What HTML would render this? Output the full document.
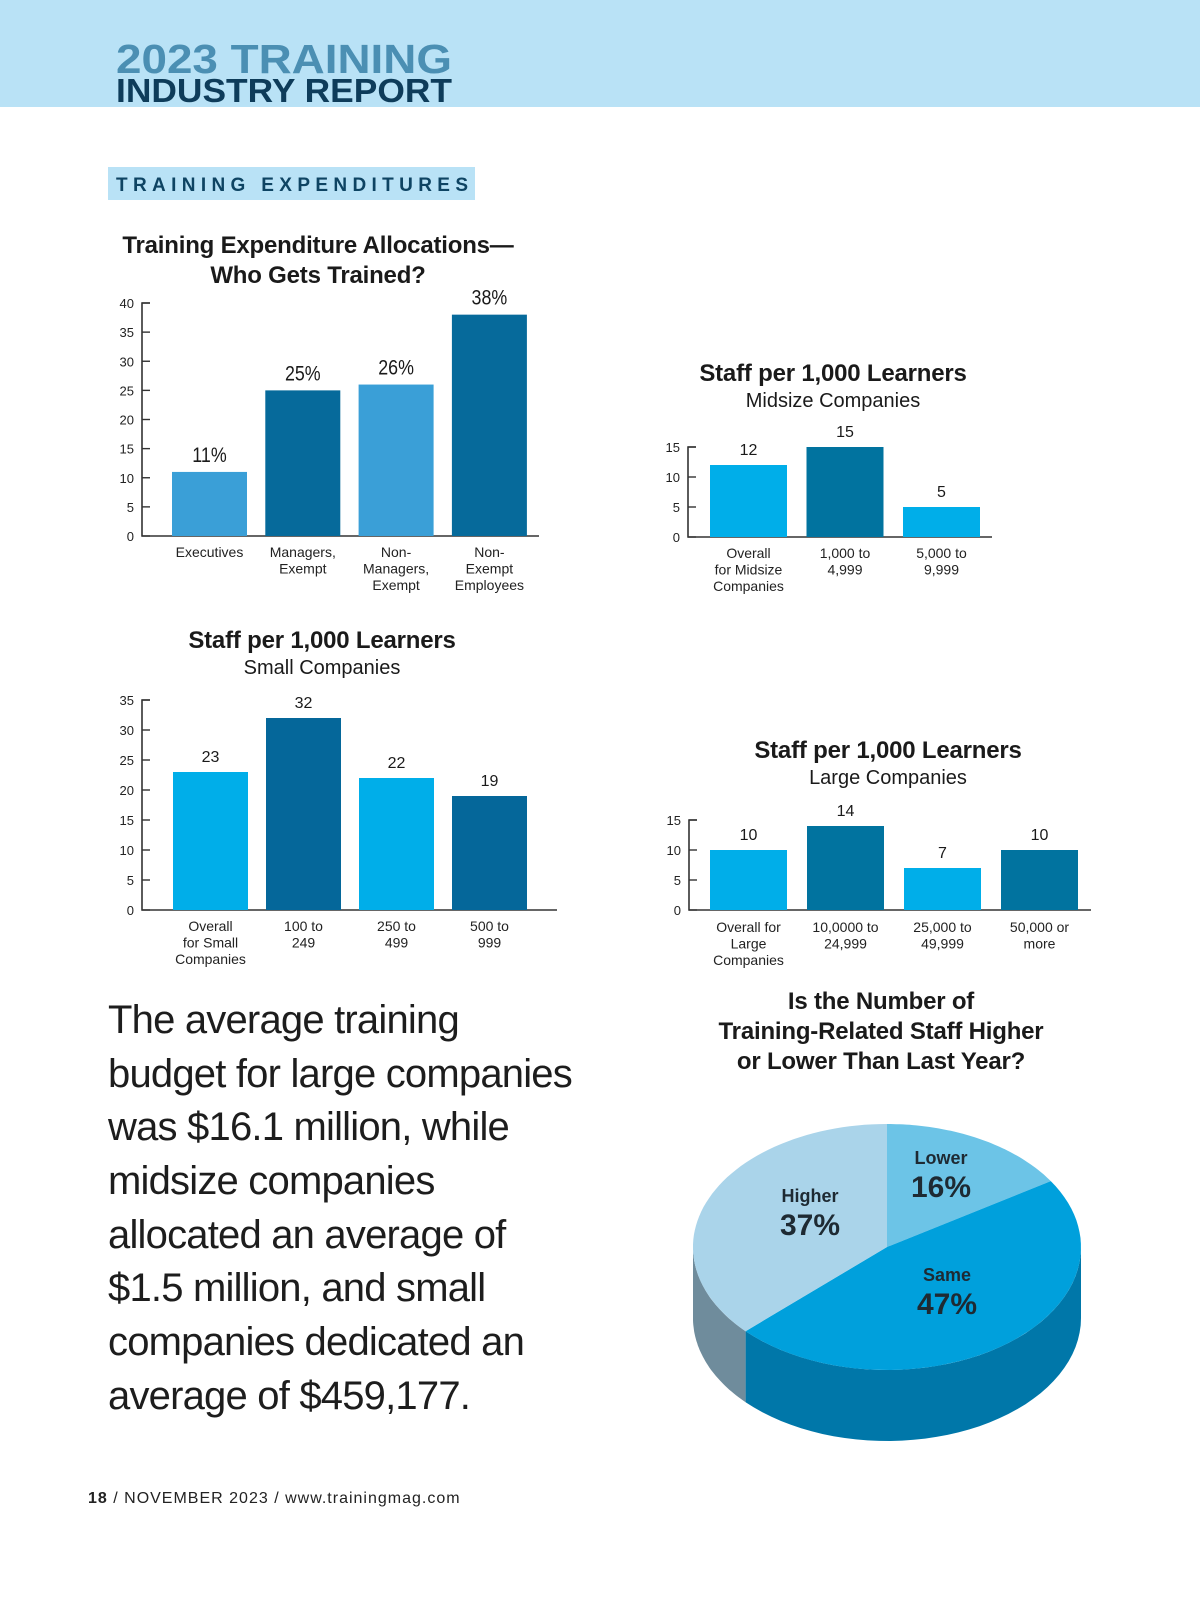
<!DOCTYPE html>
<html><head><meta charset="utf-8">
<style>
html,body{margin:0;padding:0;background:#fff;}
svg{display:block;font-family:"Liberation Sans",Arial,sans-serif;}
</style></head>
<body>
<svg id="page" width="1200" height="1613" viewBox="0 0 1200 1613" xmlns="http://www.w3.org/2000/svg">
<rect x="0" y="0" width="1200" height="107" fill="#b9e2f6"/>
<text x="116" y="73" font-size="41" font-weight="bold" fill="#4b8fb3" textLength="336" lengthAdjust="spacingAndGlyphs">2023 TRAINING</text>
<text x="116" y="102" font-size="33" font-weight="bold" fill="#0e3c5a" textLength="336" lengthAdjust="spacingAndGlyphs">INDUSTRY REPORT</text>
<rect x="108" y="167" width="367" height="33" fill="#b9e2f6"/>
<text x="116" y="191" font-size="19" font-weight="bold" fill="#0e4463" textLength="352" lengthAdjust="spacing">TRAINING EXPENDITURES</text>

<g id="c1"></g>
<g id="c2"></g>
<g id="c3"></g>
<g id="c4"></g>

<g font-size="40" fill="#1d1d1d" letter-spacing="-0.8">
<text x="108" y="1033">The average training</text>
<text x="108" y="1087">budget for large companies</text>
<text x="108" y="1140">was $16.1 million, while</text>
<text x="108" y="1194">midsize companies</text>
<text x="108" y="1248">allocated an average of</text>
<text x="108" y="1301">$1.5 million, and small</text>
<text x="108" y="1355">companies dedicated an</text>
<text x="108" y="1409">average of $459,177.</text>
</g>
<text x="88" y="1503" font-size="16" fill="#222" letter-spacing="1"><tspan font-weight="bold">18</tspan> / NOVEMBER 2023 / www.trainingmag.com</text>

<g id="pie"></g>
</svg>
<script>
// ---- chart data ----
const c1Cats = [["Executives"],["Managers,","Exempt"],["Non-","Managers,","Exempt"],["Non-","Exempt","Employees"]];
const c1Vals = [11,25,26,38];
const c1Labels = ["11%","25%","26%","38%"];
const c1Ticks = [0,5,10,15,20,25,30,35,40];

const c2Cats = [["Overall","for Midsize","Companies"],["1,000 to","4,999"],["5,000 to","9,999"]];
const c2Vals = [12,15,5];
const c2Ticks = [0,5,10,15];

const c3Cats = [["Overall","for Small","Companies"],["100 to","249"],["250 to","499"],["500 to","999"]];
const c3Vals = [23,32,22,19];
const c3Ticks = [0,5,10,15,20,25,30,35];

const c4Cats = [["Overall for","Large","Companies"],["10,0000 to","24,999"],["25,000 to","49,999"],["50,000 or","more"]];
const c4Vals = [10,14,7,10];
const c4Ticks = [0,5,10,15];

const pieCats = ["Lower","Same","Higher"];
const pieVals = [16,47,37];

const NS = "http://www.w3.org/2000/svg";
function mk(parent, tag, attrs, txt){
  const e = document.createElementNS(NS, tag);
  for (const k in attrs) e.setAttribute(k, attrs[k]);
  if (txt !== undefined) e.textContent = txt;
  parent.appendChild(e);
  return e;
}

function barChart(gid, cfg){
  const g = document.getElementById(gid);
  const ymax = cfg.ticks[cfg.ticks.length-1];
  const y = v => cfg.y0 - (cfg.y0 - cfg.yTop) * v / ymax;
  const t = mk(g,"text",{x:cfg.cx,y:cfg.titleY,"text-anchor":"middle","font-size":24,"font-weight":"bold",fill:"#1a1a1a","letter-spacing":"-0.2"}, cfg.title[0]);
  
  
  if (cfg.title[1]) {
    const t2 = mk(g,"text",{x:cfg.cx,y:cfg.titleY+(cfg.title2dy||29),"text-anchor":"middle","font-size":cfg.title2Bold?24:20,"font-weight":cfg.title2Bold?"bold":"normal",fill:"#1a1a1a","letter-spacing":cfg.title2Bold?"-0.2":"0"}, cfg.title[1]);
    
    
  }
  const ax = mk(g,"path",{d:`M${cfg.ax+8} ${y(ymax)} H${cfg.ax} V${cfg.y0} H${cfg.axEnd}`,stroke:"#333","stroke-width":"1.6",fill:"none"});
  
  
  cfg.ticks.forEach(tv=>{
    const tk = mk(g,"line",{x1:cfg.ax,x2:cfg.ax+8,y1:y(tv),y2:y(tv),stroke:"#333","stroke-width":"1.4"});
    
    
    const tl = mk(g,"text",{x:cfg.ax-8,y:y(tv)+5,"text-anchor":"end","font-size":"13",fill:"#222"}, String(tv));
    
    
  });
  cfg.vals.forEach((v,i)=>{
    const x = cfg.x0 + i*cfg.step;
    const b = mk(g,"rect",{x:x,y:y(v),width:cfg.bw,height:cfg.y0-y(v),fill:cfg.colors[i%2]});
    
    
    const lab = cfg.labels ? cfg.labels[i] : String(v);
    const vl = mk(g,"text",{x:x+cfg.bw/2,y:y(v)-cfg.labOff,"text-anchor":"middle","font-size":cfg.labSize,fill:"#1a1a1a",
      transform:cfg.narrow?`translate(${(x+cfg.bw/2)*0.15} 0) scale(0.85 1)`:""}, lab);
    
    
    cfg.cats[i].forEach((ln,j)=>{
      const cl = mk(g,"text",{x:x+cfg.bw/2,y:cfg.catY+j*16.5,"text-anchor":"middle","font-size":"14",fill:"#222"}, ln);
      
      
    });
  });
}

barChart("c1",{title:["Training Expenditure Allocations\u2014","Who Gets Trained?"],title2Bold:true,cx:318,titleY:253,title2dy:30,
  ticks:c1Ticks,vals:c1Vals,labels:c1Labels,cats:c1Cats,ax:142,axEnd:539,y0:536,yTop:303,x0:172,step:93.3,bw:75,
  colors:["#3a9fd7","#066a9b"],labOff:10,labSize:21,narrow:true,catY:557});

barChart("c2",{title:["Staff per 1,000 Learners","Midsize Companies"],cx:833,titleY:381,title2dy:26,
  ticks:c2Ticks,vals:c2Vals,cats:c2Cats,ax:688,axEnd:992,y0:537,yTop:447,x0:710,step:96.5,bw:77,
  colors:["#00aee9","#01739f"],labOff:10,labSize:16,catY:558});

barChart("c3",{title:["Staff per 1,000 Learners","Small Companies"],cx:322,titleY:648,title2dy:26,
  ticks:c3Ticks,vals:c3Vals,cats:c3Cats,ax:142,axEnd:557,y0:910,yTop:700,x0:173,step:93,bw:75,
  colors:["#00aee9","#05679a"],labOff:10,labSize:16,catY:931});

barChart("c4",{title:["Staff per 1,000 Learners","Large Companies"],cx:888,titleY:758,title2dy:26,
  ticks:c4Ticks,vals:c4Vals,cats:c4Cats,ax:689,axEnd:1091,y0:910,yTop:820,x0:710,step:97,bw:77,
  colors:["#00aee9","#01739f"],labOff:10,labSize:16,catY:932});

// ---- pie ----
(function(){
  const g = document.getElementById("pie");
  const pt = mk(g,"text",{"text-anchor":"middle","font-size":"24","font-weight":"bold",fill:"#1a1a1a","letter-spacing":"-0.2"});
  
  
  ["Is the Number of","Training-Related Staff Higher","or Lower Than Last Year?"].forEach((s,i)=>{
    mk(pt,"tspan",{x:881,y:1009+i*30},s);
  });
  const cx=887, cy=1247, rx=194, ry=123, depth=71;
  const topCol = {Lower:"#6cc4e7",Same:"#00a0dc",Higher:"#aad4ea"};
  const sideCol = {Lower:"#3c93b7",Same:"#0077a9",Higher:"#6f8c9c"};
  const P = (th,dy)=>[cx+rx*Math.sin(th), cy-ry*Math.cos(th)+(dy||0)];
  const total = pieVals.reduce((a,b)=>a+b,0);
  let acc=0;
  const segs = pieVals.map((v,i)=>{const a0=acc/total*2*Math.PI; acc+=v; return {name:pieCats[i],a0:a0,a1:acc/total*2*Math.PI,v:v};});
  segs.forEach(s=>{
    const lo=Math.max(s.a0,Math.PI/2), hi=Math.min(s.a1,3*Math.PI/2);
    if (hi<=lo) return;
    const n=40; let d="";
    for(let k=0;k<=n;k++){const p=P(lo+(hi-lo)*k/n); d+=(k?"L":"M")+p[0].toFixed(1)+" "+p[1].toFixed(1);}
    for(let k=n;k>=0;k--){const p=P(lo+(hi-lo)*k/n,depth); d+="L"+p[0].toFixed(1)+" "+p[1].toFixed(1);}
    const side = mk(g,"path",{d:d+"Z",fill:sideCol[s.name]});
    
    
  });
  segs.forEach(s=>{
    const n=60; let d=`M${cx} ${cy}`;
    for(let k=0;k<=n;k++){const p=P(s.a0+(s.a1-s.a0)*k/n); d+="L"+p[0].toFixed(1)+" "+p[1].toFixed(1);}
    const sl = mk(g,"path",{d:d+"Z",fill:topCol[s.name]});
    
    
  });
  const labOff = {Lower:[54,-83],Same:[60,34],Higher:[-77,-45]};
  segs.forEach(s=>{
    const p=[cx+labOff[s.name][0], cy+labOff[s.name][1]];
    const l1 = mk(g,"text",{x:p[0],y:p[1],"text-anchor":"middle","font-size":"18","font-weight":"bold",fill:"#1e2a33"}, s.name);
    
    
    const l2 = mk(g,"text",{x:p[0],y:p[1]+33,"text-anchor":"middle","font-size":"30","font-weight":"bold",fill:"#1e2a33"}, s.v+"%");
    
    
  });
})();
</script>
</body></html>
